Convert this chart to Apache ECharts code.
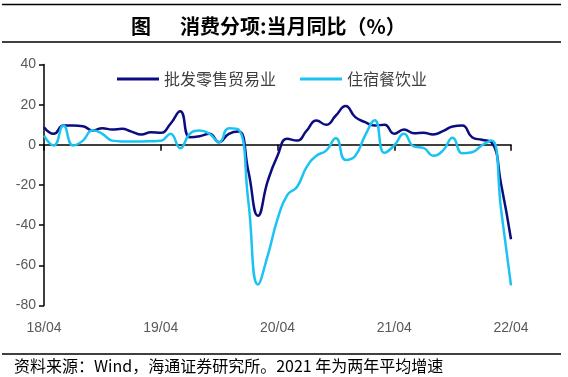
<!DOCTYPE html>
<html><head><meta charset="utf-8">
<script src="https://cdn.jsdelivr.net/npm/echarts@6/dist/echarts.min.js"></script>
<style>html,body{margin:0;padding:0;background:#fff}#c{width:568px;height:377px}</style>
</head><body><div id="c"></div>
<script>
const months = [
 '18/04','18/05','18/06','18/07','18/08','18/09','18/10','18/11','18/12',
 '19/01','19/02','19/03','19/04','19/05','19/06','19/07','19/08','19/09','19/10','19/11','19/12',
 '20/01','20/02','20/03','20/04','20/05','20/06','20/07','20/08','20/09','20/10','20/11','20/12',
 '21/01','21/02','21/03','21/04','21/05','21/06','21/07','21/08','21/09','21/10','21/11','21/12',
 '22/01','22/02','22/03','22/04'
];
const wholesaleRetail = [
 8.8,5.5,9.6,9.6,9.3,7.1,8.3,7.6,8.0,
 6.6,5.1,6.3,6.0,10.5,16.7,3.8,4.3,5.5,1.3,5.5,6.6,
 -13,-35.3,-18,-5.4,3.0,2.1,7.1,12.1,10.0,14.6,19.3,13.8,
 11.3,9.6,10.0,5.5,7.6,5.8,6.0,5.1,6.8,9.1,9.6,3.8,
 2.5,1.3,-20,-47
];
const accommodationCatering = [
 4.6,-0.3,9.6,-0.3,2.1,7.3,5.5,2.1,1.7,
 1.7,1.7,1.8,2.0,5.5,-1.7,5.5,7.1,5.5,1.3,8.3,7.6,
 -28,-69.5,-55,-37,-25,-21,-11,-5.4,-2.9,3.3,-7.5,-5.4,
 4.6,12.3,-4,-0.3,5.5,-0.8,-1.5,-5.4,-2.9,3.5,-4.2,-3.7,
 -0.3,2.1,-33,-70
];
const seriesNames = ['批发零售贸易业','住宿餐饮业'];
const titleMark = '图';
const titleText = '消费分项:当月同比（%）';
const footerText = '资料来源：Wind，海通证券研究所。2021 年为两年平均增速';

const chart = echarts.init(document.getElementById('c'), null, {renderer:'canvas'});
const axisFont = 'Liberation Sans, Arial, sans-serif';
chart.setOption({
  animation:false,
  backgroundColor:'#fff',
  grid:{left:44,right:57,top:64.5,bottom:71.5,containLabel:false},
  legend:{
    left:112, top:66, itemWidth:42, itemHeight:3, itemGap:24, icon:'rect',
    textStyle:{fontSize:16,color:'#404040',fontFamily:'Noto Sans CJK SC'},
    data:seriesNames
  },
  graphic:[
    {type:'line',shape:{x1:2,y1:4.5,x2:561,y2:4.5},style:{stroke:'#000',lineWidth:1.5}},
    {type:'line',shape:{x1:2,y1:42,x2:561,y2:42},style:{stroke:'#000',lineWidth:1.5}},
    {type:'text',left:131,top:16,style:{text:titleMark,font:'bold 20px "Noto Sans CJK SC"',fill:'#000'}},
    {type:'text',left:180,top:16,style:{text:titleText,font:'bold 20px "Noto Sans CJK SC"',fill:'#000'}},
    {type:'line',shape:{x1:2,y1:354,x2:561,y2:354},style:{stroke:'#000',lineWidth:1.5}},
    {type:'text',left:14,top:358,style:{text:footerText,font:'16px "Noto Sans CJK SC"',fill:'#000'}}
  ],
  xAxis:[
    {type:'category',data:months,boundaryGap:false,position:'bottom',
     axisLine:{show:false,onZero:false},axisTick:{show:false},
     axisLabel:{interval:11,margin:16,fontSize:14,color:'#595959',fontFamily:axisFont},
     splitLine:{show:false}},
    {type:'category',data:months,boundaryGap:false,position:'bottom',
     axisLine:{show:true,onZero:true,onZeroAxisIndex:0,lineStyle:{color:'#000',width:1.5}},
     axisTick:{show:true,interval:11,length:6,inside:false,lineStyle:{color:'#000',width:1.5}},
     axisLabel:{show:false},splitLine:{show:false}}
  ],
  yAxis:{type:'value',min:-80,max:40,interval:20,
    axisLine:{show:true,lineStyle:{color:'#000',width:1.5}},
    axisTick:{show:true,length:5,lineStyle:{color:'#000',width:1.5}},
    splitLine:{show:false},
    axisLabel:{margin:8,fontSize:14,color:'#595959',fontFamily:axisFont}},
  series:[
    {name:seriesNames[0],type:'line',data:wholesaleRetail,smooth:true,showSymbol:false,
     xAxisIndex:0,color:'#0c0c80',lineStyle:{width:2.5,color:'#0c0c80'}},
    {name:seriesNames[1],type:'line',data:accommodationCatering,smooth:true,showSymbol:false,
     xAxisIndex:0,color:'#1bc3f3',lineStyle:{width:2.5,color:'#1bc3f3'}}
  ]
});
</script></body></html>
